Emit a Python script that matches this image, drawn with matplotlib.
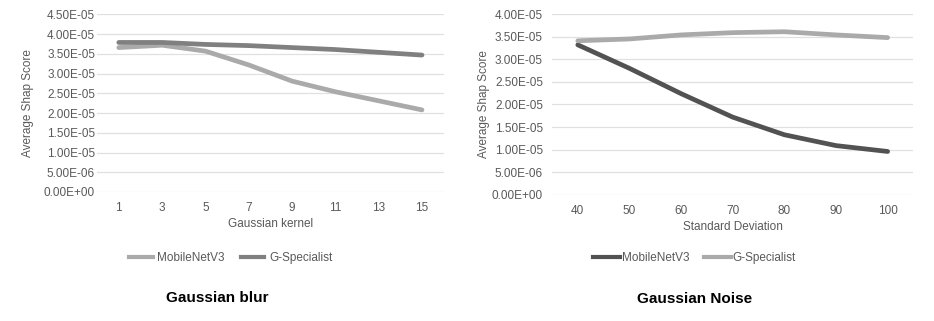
import matplotlib
matplotlib.use("Agg")
import matplotlib.pyplot as plt
from matplotlib.ticker import FuncFormatter, MultipleLocator
from matplotlib.lines import Line2D

plt.rcParams['font.family'] = ['Liberation Sans', 'DejaVu Sans']

# Gaussian blur panel
blur_kernel = ["1", "3", "5", "7", "9", "11", "13", "15"]
blur_mobilenet = [3.66e-5, 3.72e-5, 3.57e-5, 3.22e-5, 2.81e-5, 2.54e-5, 2.31e-5, 2.08e-5]
blur_gspec = [3.79e-5, 3.79e-5, 3.74e-5, 3.71e-5, 3.66e-5, 3.61e-5, 3.54e-5, 3.47e-5]

# Gaussian noise panel
noise_std = ["40", "50", "60", "70", "80", "90", "100"]
noise_mobilenet = [3.32e-5, 2.80e-5, 2.24e-5, 1.72e-5, 1.33e-5, 1.09e-5, 0.96e-5]
noise_gspec = [3.41e-5, 3.45e-5, 3.54e-5, 3.59e-5, 3.61e-5, 3.54e-5, 3.48e-5]

light = "#aaaaaa"
dark_mid = "#808080"
dark = "#525252"
txt = "#595959"
grid = "#e0e0e0"


def sci_fmt(v, pos):
    return "%.2E" % v


def style_axes(ax, ymax, xlabel, ncat, ypad, ylabpad):
    ax.set_ylim(0, ymax)
    ax.set_xlim(-0.5, ncat - 0.5)
    ax.yaxis.set_major_locator(MultipleLocator(5e-6))
    ax.yaxis.set_major_formatter(FuncFormatter(sci_fmt))
    ax.grid(axis='y', color=grid, linewidth=0.9)
    ax.set_axisbelow(True)
    for s in ax.spines.values():
        s.set_visible(False)
    ax.tick_params(axis='both', length=0, labelsize=8.5, colors=txt)
    ax.tick_params(axis='x', pad=7.5)
    ax.tick_params(axis='y', pad=ypad)
    ax.set_ylabel("Average Shap Score", fontsize=8.5, color=txt, labelpad=ylabpad)
    ax.set_xlabel(xlabel, fontsize=8.5, color=txt, labelpad=2.5)


fig = plt.figure(figsize=(9.34, 3.21), dpi=100)

ax1 = fig.add_axes([0.104, 0.402, 0.371, 0.553])
x1 = range(len(blur_kernel))
ax1.plot(x1, blur_mobilenet, color=light, lw=3.4, solid_joinstyle='round', solid_capstyle='round')
ax1.plot(x1, blur_gspec, color=dark_mid, lw=3.4, solid_joinstyle='round', solid_capstyle='round')
ax1.set_xticks(list(x1))
ax1.set_xticklabels(blur_kernel)
style_axes(ax1, 4.5e-5, "Gaussian kernel", len(blur_kernel), 1.5, 7)

ax2 = fig.add_axes([0.591, 0.393, 0.387, 0.563])
x2 = range(len(noise_std))
ax2.plot(x2, noise_mobilenet, color=dark, lw=3.4, solid_joinstyle='round', solid_capstyle='round')
ax2.plot(x2, noise_gspec, color=light, lw=3.4, solid_joinstyle='round', solid_capstyle='round')
ax2.set_xticks(list(x2))
ax2.set_xticklabels(noise_std)
style_axes(ax2, 4.0e-5, "Standard Deviation", len(noise_std), 6.5, 1)


def add_legend(c1, c2, x0, y0, hl, tp, cs):
    h = [Line2D([], [], color=c1, lw=3), Line2D([], [], color=c2, lw=3)]
    fig.legend(h, ["MobileNetV3", "G-Specialist"], loc='center left',
               bbox_to_anchor=(x0, y0), ncol=2, frameon=False, fontsize=8.5,
               handlelength=hl, handletextpad=tp, columnspacing=cs,
               labelcolor=txt, borderaxespad=0, borderpad=0)


add_legend(light, dark_mid, 0.138, 0.197, 2.0, 0.4, 1.35)
add_legend(dark, light, 0.635, 0.195, 2.3, 0.15, 1.2)

fig.text(0.233, 0.071, "Gaussian blur", ha='center', va='center', fontsize=11, fontweight='bold')
fig.text(0.744, 0.068, "Gaussian Noise", ha='center', va='center', fontsize=11, fontweight='bold')

fig.savefig("out.png", dpi=100)
